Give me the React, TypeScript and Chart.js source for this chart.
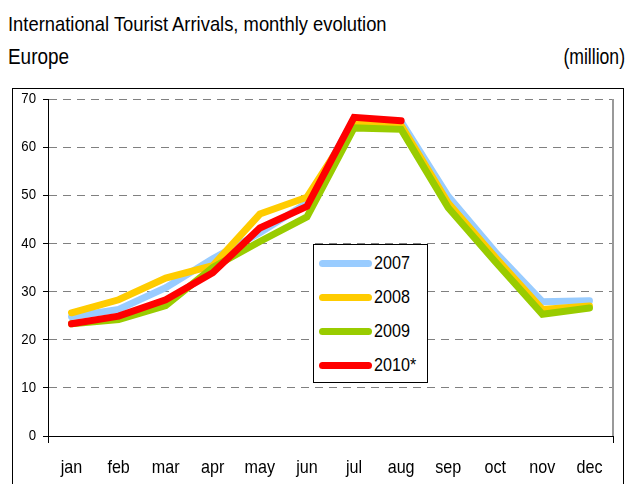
import React, { useEffect, useRef } from "react";
import { Chart, registerables } from "chart.js";

Chart.register(...registerables);

const months = ["jan", "feb", "mar", "apr", "may", "jun", "jul", "aug", "sep", "oct", "nov", "dec"];
const seriesLabels = ["2007", "2008", "2009", "2010*"];
const seriesColors = ["#99CCFF", "#FFCC00", "#99CC00", "#FF0000"];
const values2007 = [24.8, 26.3, 30.8, 36.8, 42.2, 48.4, 65.8, 65.3, 49.8, 38.2, 27.9, 28.1];
const values2008 = [25.6, 28.3, 32.8, 35.4, 46.1, 49.6, 64.8, 64.5, 48.4, 37.1, 26.3, 27.0];
const values2009 = [23.3, 24.2, 27.1, 35.0, 40.4, 45.5, 64.0, 63.7, 47.4, 36.2, 25.3, 26.6];
const values2010 = [23.3, 24.9, 28.3, 33.9, 43.2, 47.7, 66.2, 65.5, null, null, null, null];
const yTicks = [0, 10, 20, 30, 40, 50, 60, 70];

const FONT = "'Liberation Sans', Arial, sans-serif";

function drawNarrow(ctx: any, text: string, x: number, y: number, size: number, sx: number, align: string, baseline: string) {
  ctx.save();
  ctx.translate(x, y);
  ctx.scale(sx, 1);
  ctx.font = `${size}px ${FONT}`;
  ctx.fillStyle = "#000";
  ctx.textAlign = align;
  ctx.textBaseline = baseline;
  ctx.fillText(text, 0, 0);
  ctx.restore();
}

const framePlugin = {
  id: "frameExtras",
  afterDraw(chart: any) {
    const { ctx, chartArea } = chart;
    ctx.save();
    ctx.strokeStyle = "#999999";
    ctx.lineWidth = 2;
    ctx.beginPath();
    ctx.moveTo(chartArea.right, chartArea.top);
    ctx.lineTo(chartArea.right, chartArea.bottom);
    ctx.stroke();
    ctx.strokeStyle = "#000";
    ctx.lineWidth = 1;
    ctx.beginPath();
    ctx.moveTo(Math.round(chartArea.left) + 0.5, chartArea.bottom);
    ctx.lineTo(Math.round(chartArea.left) + 0.5, chartArea.bottom + 7);
    ctx.moveTo(Math.round(chartArea.right) + 0.5, chartArea.bottom);
    ctx.lineTo(Math.round(chartArea.right) + 0.5, chartArea.bottom + 7);
    ctx.stroke();
    ctx.restore();

    const xs = chart.scales.x;
    xs.ticks.forEach((t: any, i: number) => {
      drawNarrow(ctx, String(xs.getLabelForValue(t.value)), xs.getPixelForTick(i), chartArea.bottom + 37, 19, 0.85, "center", "alphabetic");
    });
    const ys = chart.scales.y;
    ys.ticks.forEach((t: any, i: number) => {
      drawNarrow(ctx, String(t.value), chartArea.left - 12, ys.getPixelForTick(i), 15, 0.88, "right", "middle");
    });
  },
};

export default function App() {
  const canvasRef = useRef<HTMLCanvasElement | null>(null);

  useEffect(() => {
    if (!canvasRef.current) return;
    const all = [values2007, values2008, values2009, values2010];
    const chart = new Chart(canvasRef.current, {
      type: "line",
      data: {
        labels: months,
        datasets: all.map((vals, i) => ({
          label: seriesLabels[i],
          data: vals,
          borderColor: seriesColors[i],
          backgroundColor: seriesColors[i],
          borderWidth: 7,
          pointRadius: 0,
          tension: 0,
          fill: false,
          borderCapStyle: "round" as const,
          borderJoinStyle: "miter" as const,
          order: 4 - i,
          spanGaps: false,
        })),
      },
      options: {
        animation: false,
        responsive: false,
        maintainAspectRatio: false,
        layout: { padding: { top: 10, right: 9, left: 0, bottom: 0 } },
        plugins: { legend: { display: false }, tooltip: { enabled: false }, title: { display: false } },
        scales: {
          x: {
            offset: true,
            grid: { display: false },
            border: { display: true, color: "#000", width: 1 },
            ticks: { display: false, autoSkip: false, maxRotation: 0 },
            afterFit: (s: any) => { s.height = 48; },
          },
          y: {
            min: 0,
            max: 70,
            afterBuildTicks: (s: any) => { s.ticks = yTicks.map((v) => ({ value: v })); },
            grid: {
              color: (c: any) => (c.tick && c.tick.value === 0 ? "rgba(0,0,0,0)" : "#808080"),
              lineWidth: 1,
              tickColor: "#000",
              tickLength: 5,
              drawTicks: true,
            },
            border: { display: true, color: "#000", width: 1, dash: [8, 6] },
            ticks: { display: false },
            afterFit: (s: any) => { s.width = 35; },
          },
        },
      },
      plugins: [framePlugin],
    });
    return () => chart.destroy();
  }, []);

  const narrow = (sx: number, origin: string): React.CSSProperties => ({
    display: "inline-block",
    transform: `scaleX(${sx})`,
    transformOrigin: origin,
    whiteSpace: "nowrap",
  });

  return (
    <div style={{ position: "absolute", left: 0, top: 0, width: 625, height: 484, overflow: "hidden", background: "#fff", fontFamily: FONT, color: "#000" }}>
      <div style={{ position: "absolute", left: 8, top: 10, fontSize: 21, lineHeight: "28px", whiteSpace: "nowrap" }}>
        <span style={narrow(0.875, "left center")}>International Tourist Arrivals, monthly evolution</span>
      </div>
      <div style={{ position: "absolute", left: 8, top: 43, fontSize: 22, lineHeight: "28px" }}>
        <span style={narrow(0.86, "left center")}>Europe</span>
      </div>
      <div style={{ position: "absolute", right: 0, top: 43, fontSize: 22, lineHeight: "28px", textAlign: "right" }}>
        <span style={narrow(0.8, "right center")}>(million)</span>
      </div>
      <div style={{ position: "absolute", left: 12, top: 88, width: 610, height: 420, border: "1px solid #000" }} />
      <canvas ref={canvasRef} width={609} height={395} style={{ position: "absolute", left: 13, top: 89, width: 609, height: 395 }} />
      <div style={{ position: "absolute", left: 313, top: 244, width: 113, height: 137, border: "1px solid #000", background: "#fff" }}>
        {seriesLabels.map((lab, i) => (
          <div key={lab} style={{ position: "absolute", left: 5, top: 6 + i * 34, height: 24, display: "flex", alignItems: "center" }}>
            <div style={{ width: 53, height: 7, borderRadius: 4, background: seriesColors[i] }} />
            <span style={{ fontSize: 19, marginLeft: 2, lineHeight: "24px", ...narrow(0.85, "left center") }}>{lab}</span>
          </div>
        ))}
      </div>
    </div>
  );
}
